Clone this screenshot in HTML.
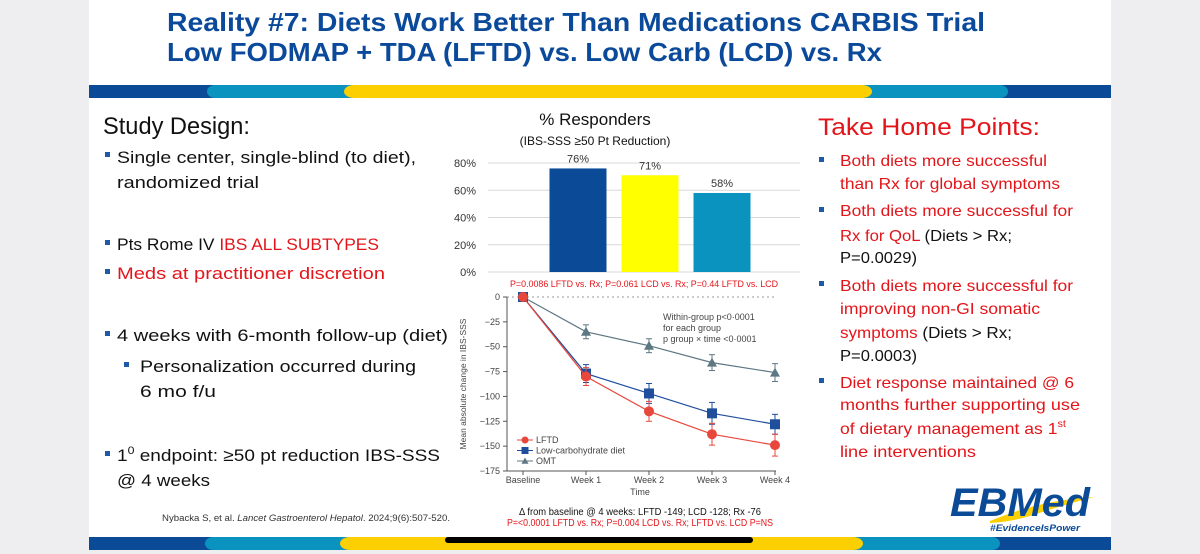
<!DOCTYPE html>
<html><head><meta charset="utf-8"><style>
html,body{margin:0;padding:0;background:#eeeef1;}
svg{display:block;font-family:"Liberation Sans",sans-serif;}
</style></head><body>
<svg id="s" width="1200" height="554" viewBox="0 0 1200 554" xmlns="http://www.w3.org/2000/svg">
<rect x="0" y="0" width="1200" height="554" fill="#eeeef1"/>
<rect x="89" y="0" width="1022" height="550" fill="#ffffff"/>
<g fill="#0b4a9a" font-weight="bold" font-size="26">
<text x="167" y="31" textLength="818" lengthAdjust="spacingAndGlyphs">Reality #7: Diets Work Better Than Medications CARBIS Trial</text>
<text x="167" y="61" textLength="715" lengthAdjust="spacingAndGlyphs">Low FODMAP + TDA (LFTD) vs. Low Carb (LCD) vs. Rx</text>
</g>
<g>
<rect x="89" y="85" width="1022" height="13" fill="#0a4a96"/>
<rect x="207" y="85" width="801" height="13" rx="8" fill="#0b93c0"/>
<rect x="344" y="85" width="528" height="13" rx="10" fill="#fccf00"/>
</g>
<g>
<rect x="89" y="537" width="1022" height="13" fill="#0a4a96"/>
<rect x="205" y="537" width="795" height="13" rx="8" fill="#0b93c0"/>
<rect x="340" y="537" width="523" height="13" rx="10" fill="#fccf00"/>
<rect x="445" y="537" width="308" height="6" rx="3" fill="#000"/>
</g>
<g font-size="17" fill="#111">
<text x="103" y="134" font-size="24" textLength="147" lengthAdjust="spacingAndGlyphs">Study Design:</text>
<g fill="#1f5aa8"><rect x="105" y="152" width="5" height="5"/><rect x="105" y="240" width="5" height="5"/><rect x="105" y="269" width="5" height="5"/><rect x="105" y="331" width="5" height="5"/><rect x="124" y="362" width="5" height="5"/><rect x="105" y="451" width="5" height="5"/></g>
<text x="117" y="163" textLength="299" lengthAdjust="spacingAndGlyphs">Single center, single-blind (to diet),</text>
<text x="117" y="188" textLength="142" lengthAdjust="spacingAndGlyphs">randomized trial</text>
<text x="117" y="250" textLength="262" lengthAdjust="spacingAndGlyphs">Pts Rome IV <tspan fill="#e3151a">IBS ALL SUBTYPES</tspan></text>
<text x="117" y="279" textLength="268" lengthAdjust="spacingAndGlyphs" fill="#e3151a">Meds at practitioner discretion</text>
<text x="117" y="341" textLength="331" lengthAdjust="spacingAndGlyphs">4 weeks with 6-month follow-up (diet)</text>
<text x="140" y="372" textLength="276" lengthAdjust="spacingAndGlyphs">Personalization occurred during</text>
<text x="140" y="397" textLength="76" lengthAdjust="spacingAndGlyphs">6 mo f/u</text>
<text x="117" y="461" textLength="323" lengthAdjust="spacingAndGlyphs">1<tspan font-size="11" dy="-7">0</tspan><tspan dy="7"> endpoint: ≥50 pt reduction IBS-SSS</tspan></text>
<text x="117" y="486" textLength="93" lengthAdjust="spacingAndGlyphs">@ 4 weeks</text>
<text x="162" y="521" font-size="9.5" fill="#333" textLength="288" lengthAdjust="spacingAndGlyphs">Nybacka S, et al. <tspan font-style="italic">Lancet Gastroenterol Hepatol</tspan>. 2024;9(6):507-520.</text>
</g>
<g font-size="16" fill="#e3151a">
<text x="818" y="135" font-size="24" textLength="222" lengthAdjust="spacingAndGlyphs">Take Home Points:</text>
<g fill="#1f5aa8"><rect x="819" y="157" width="5" height="5"/><rect x="819" y="207" width="5" height="5"/><rect x="819" y="281" width="5" height="5"/><rect x="819" y="378" width="5" height="5"/></g>
<text x="840" y="166" textLength="207" lengthAdjust="spacingAndGlyphs">Both diets more successful</text>
<text x="840" y="189" textLength="220" lengthAdjust="spacingAndGlyphs">than Rx for global symptoms</text>
<text x="840" y="216" textLength="233" lengthAdjust="spacingAndGlyphs">Both diets more successful for</text>
<text x="840" y="241" textLength="172" lengthAdjust="spacingAndGlyphs">Rx for QoL <tspan fill="#111">(Diets &gt; Rx;</tspan></text>
<text x="840" y="263" fill="#111" textLength="77" lengthAdjust="spacingAndGlyphs">P=0.0029)</text>
<text x="840" y="291" textLength="233" lengthAdjust="spacingAndGlyphs">Both diets more successful for</text>
<text x="840" y="314" textLength="200" lengthAdjust="spacingAndGlyphs">improving non-GI somatic</text>
<text x="840" y="338" textLength="172" lengthAdjust="spacingAndGlyphs">symptoms <tspan fill="#111">(Diets &gt; Rx;</tspan></text>
<text x="840" y="361" fill="#111" textLength="77" lengthAdjust="spacingAndGlyphs">P=0.0003)</text>
<text x="840" y="388" textLength="234" lengthAdjust="spacingAndGlyphs">Diet response maintained @ 6</text>
<text x="840" y="410" textLength="240" lengthAdjust="spacingAndGlyphs">months further supporting use</text>
<text x="840" y="434" textLength="226" lengthAdjust="spacingAndGlyphs">of dietary management as 1<tspan font-size="10" dy="-7">st</tspan></text>
<text x="840" y="457" textLength="136" lengthAdjust="spacingAndGlyphs">line interventions</text>
</g>
<g>
<path d="M990 521 Q1040 500 1094 497 Q1060 506 1030 516 Q1010 522 990 523 Z" fill="#fccf00"/>
<text x="950" y="516" font-size="40" font-weight="bold" font-style="italic" fill="#0a4a96" textLength="140" lengthAdjust="spacingAndGlyphs">EBMed</text>
<text x="990" y="531" font-size="9" font-weight="bold" font-style="italic" fill="#0a4a96" textLength="90" lengthAdjust="spacingAndGlyphs">#EvidenceIsPower</text>
</g>
<g id="bar"></g>
<g id="line"></g>
<g>
<text x="640" y="515" font-size="10.5" fill="#111" text-anchor="middle" textLength="242" lengthAdjust="spacingAndGlyphs">Δ from baseline @ 4 weeks: LFTD -149; LCD -128; Rx -76</text>
<text x="640" y="526" font-size="10.5" fill="#e3151a" text-anchor="middle" textLength="266" lengthAdjust="spacingAndGlyphs">P=&lt;0.0001 LFTD vs. Rx; P=0.004 LCD vs. Rx; LFTD vs. LCD P=NS</text>
</g>
</svg>
<script>
const NS="http://www.w3.org/2000/svg";
const barCategories=["LFTD","LCD","Rx"];
const barValues=[76,71,58];
const barColors=["#0a4a96","#ffff00","#0b93c0"];
const barTicks=[0,20,40,60,80];
const weeks=["Baseline","Week 1","Week 2","Week 3","Week 4"];
const lftd=[0,-80,-115,-138,-149];
const lcd=[0,-77,-97,-117,-128];
const omt=[0,-35,-49,-66,-76];
const lftdErr=[0,9,10,11,11];
const lcdErr=[0,9,10,11,10];
const omtErr=[0,7,7,8,9];
const lineTicks=[0,-25,-50,-75,-100,-125,-150,-175];

function mk(tag,attrs,parent,txt){const e=document.createElementNS(NS,tag);for(const k in attrs)e.setAttribute(k,attrs[k]);if(txt!=null)e.textContent=txt;parent.appendChild(e);return e;}

// Bar chart
const bg=document.getElementById('bar');
const by=v=>272-v*(109/80);
const bx=i=>578+i*72;
let t=mk('text',{x:595,y:125,'font-size':17,'text-anchor':'middle',fill:'#111'},bg,'% Responders');


t=mk('text',{x:595,y:145,'font-size':12,'text-anchor':'middle',fill:'#111'},bg,'(IBS-SSS ≥50 Pt Reduction)');


barTicks.forEach(v=>{
 const l=mk('line',{x1:488,x2:800,y1:by(v),y2:by(v),stroke:'#d9d9d9','stroke-width':1},bg);
 
 
 const tx=mk('text',{x:476,y:by(v)+4,'font-size':11,'text-anchor':'end',fill:'#333'},bg,v+'%');
 
 
});
barValues.forEach((v,i)=>{
 const r=mk('rect',{x:bx(i)-28.5,y:by(v),width:57,height:by(0)-by(v),fill:barColors[i]},bg);
 
 
 const tx=mk('text',{x:bx(i),y:by(v)-6,'font-size':11,'text-anchor':'middle',fill:'#333'},bg,v+'%');
 
 
});
t=mk('text',{x:644,y:287,'font-size':9.5,'text-anchor':'middle',fill:'#e3151a',textLength:268,lengthAdjust:'spacingAndGlyphs'},bg,'P=0.0086 LFTD vs. Rx; P=0.061 LCD vs. Rx; P=0.44 LFTD vs. LCD');



// Line chart
const lg=document.getElementById('line');
const ly=v=>297+(-v)*(174/175);
const lx=i=>523+i*63;
mk('line',{x1:507,x2:776,y1:ly(0),y2:ly(0),stroke:'#999','stroke-dasharray':'2,3'},lg);
mk('line',{x1:507,x2:507,y1:297,y2:471,stroke:'#555'},lg);
mk('line',{x1:507,x2:776,y1:471,y2:471,stroke:'#555'},lg);
lineTicks.forEach(v=>{
 mk('line',{x1:503,x2:507,y1:ly(v),y2:ly(v),stroke:'#555'},lg);
 const tx=mk('text',{x:500,y:ly(v)+3,'font-size':9,'text-anchor':'end',fill:'#444'},lg,v===0?'0':'−'+(-v));
 
 
});
weeks.forEach((w,i)=>{
 mk('line',{x1:lx(i),x2:lx(i),y1:471,y2:475,stroke:'#555'},lg);
 const tx=mk('text',{x:lx(i),y:483,'font-size':9,'text-anchor':'middle',fill:'#444'},lg,w);
 
 
});
t=mk('text',{x:640,y:495,'font-size':9,'text-anchor':'middle',fill:'#444'},lg,'Time');


t=mk('text',{x:0,y:0,'font-size':8.5,'text-anchor':'middle',fill:'#444',transform:'translate(466,384) rotate(-90)'},lg,'Mean absolute change in IBS-SSS');


['Within-group p<0·0001','for each group','p group × time <0·0001'].forEach((s,i)=>{
 const tx=mk('text',{x:663,y:320+i*11,'font-size':9,fill:'#444'},lg,s);
 
 
});
const series=[
 {name:'omt',vals:omt,err:omtErr,color:'#5d7783',shape:'tri',label:'OMT'},
 {name:'lcd',vals:lcd,err:lcdErr,color:'#1f4e9c',shape:'sq',label:'Low-carbohydrate diet'},
 {name:'lftd',vals:lftd,err:lftdErr,color:'#e8473c',shape:'circ',label:'LFTD'}];
function marker(s,x,y,g){
 if(s.shape==='circ')return mk('circle',{cx:x,cy:y,r:5,fill:s.color},g);
 if(s.shape==='sq')return mk('rect',{x:x-5,y:y-5,width:10,height:10,fill:s.color},g);
 return mk('path',{d:`M${x},${y-5} L${x+5},${y+4} L${x-5},${y+4} Z`,fill:s.color},g);
}
series.forEach(s=>{
 const p=s.vals.map((v,i)=>lx(i)+','+ly(v)).join(' ');
 const pl=mk('polyline',{points:p,fill:'none',stroke:s.color,'stroke-width':1.2},lg);
 
 
 s.vals.forEach((v,i)=>{
  if(s.err[i]>0){
   mk('line',{x1:lx(i),x2:lx(i),y1:ly(v+s.err[i]),y2:ly(v-s.err[i]),stroke:s.color},lg);
   mk('line',{x1:lx(i)-3,x2:lx(i)+3,y1:ly(v+s.err[i]),y2:ly(v+s.err[i]),stroke:s.color},lg);
   mk('line',{x1:lx(i)-3,x2:lx(i)+3,y1:ly(v-s.err[i]),y2:ly(v-s.err[i]),stroke:s.color},lg);
  }
  const m=marker(s,lx(i),ly(v),lg);
  
  
 });
});
[series[2],series[1],series[0]].forEach((s,i)=>{
 const yy=440+i*10.5;
 mk('line',{x1:517,x2:533,y1:yy,y2:yy,stroke:s.color},lg);
 const m=marker(s,525,yy,lg);
 m.setAttribute('transform',`translate(${525*0.3},${yy*0.3}) scale(0.7)`);
 const tx=mk('text',{x:536,y:yy+3,'font-size':9,fill:'#444'},lg,s.label);
 
 
});
</script>
</body></html>
